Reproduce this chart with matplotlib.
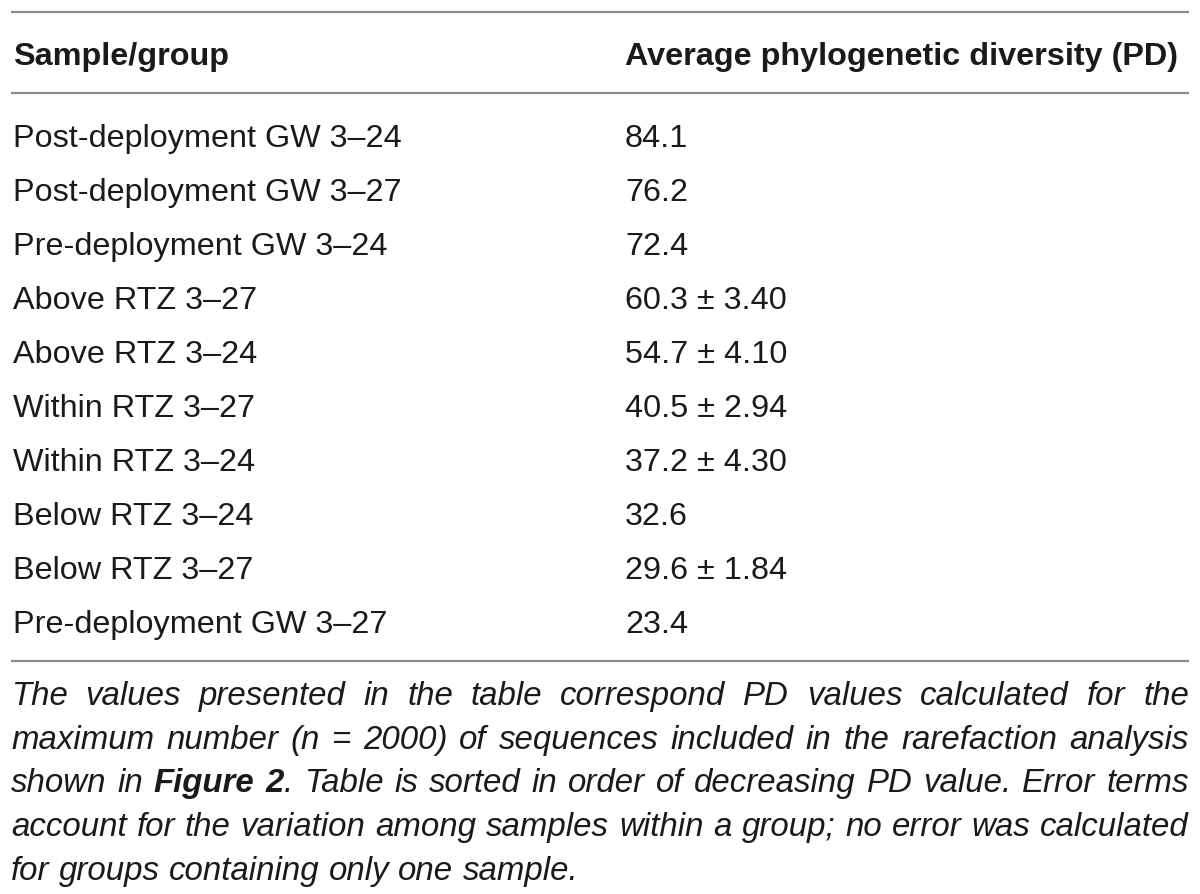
import matplotlib
matplotlib.use("Agg")
import matplotlib.pyplot as plt

# ---- data ----
header_left = "Sample/group"
header_right = "Average phylogenetic diversity (PD)"
samples = [
    "Post-deployment GW 3\u201324",
    "Post-deployment GW 3\u201327",
    "Pre-deployment GW 3\u201324",
    "Above RTZ 3\u201327",
    "Above RTZ 3\u201324",
    "Within RTZ 3\u201327",
    "Within RTZ 3\u201324",
    "Below RTZ 3\u201324",
    "Below RTZ 3\u201327",
    "Pre-deployment GW 3\u201327",
]
pd_values = [84.1, 76.2, 72.4, 60.3, 54.7, 40.5, 37.2, 32.6, 29.6, 23.4]
pd_errors = [None, None, None, 3.40, 4.10, 2.94, 4.30, None, 1.84, None]

caption_lines = [
    "The values presented in the table correspond PD values calculated for the",
    "maximum number (n = 2000) of sequences included in the rarefaction analysis",
    "shown in **Figure 2**. Table is sorted in order of decreasing PD value. Error terms",
    "account for the variation among samples within a group; no error was calculated",
    "for groups containing only one sample.",
]

# ---- layout ----
W, H = 1200, 895
FONT = "Liberation Sans"
TXT = "#1a1a1a"
LINE = "#8a8a8a"
FS = 23.3
CFS = 23.8

fig = plt.figure(figsize=(W / 100, H / 100), dpi=100)
ax = fig.add_axes([0, 0, 1, 1])
ax.set_xlim(0, W)
ax.set_ylim(H, 0)
ax.axis("off")

x_left, x_right = 11, 1189
x_col2 = 625

for y in (13, 94, 662):
    ax.plot([x_left, x_right], [y, y], color=LINE, lw=1.6, solid_capstyle="butt")

ax.text(13, 65, header_left, fontsize=FS, fontweight="bold", family=FONT,
        color=TXT, va="baseline", ha="left")
ax.text(x_col2, 65, header_right, fontsize=FS, fontweight="bold", family=FONT,
        color=TXT, va="baseline", ha="left")

row0, step = 147, 54.0
for i, (s, v, e) in enumerate(zip(samples, pd_values, pd_errors)):
    y = row0 + i * step
    ax.text(13, y, s, fontsize=FS, family=FONT, color=TXT, va="baseline", ha="left")
    val = f"{v:.1f}" if e is None else f"{v:.1f} \u00b1 {e:.2f}"
    ax.text(x_col2, y, val, fontsize=FS, family=FONT, color=TXT, va="baseline", ha="left")

# ---- justified caption ----
fig.canvas.draw()
renderer = fig.canvas.get_renderer()


def parse_line(line):
    # words are lists of (text, bold) segments; "**" toggles bold
    tokens = []
    bold = False
    cur = []
    buf = ""
    i = 0
    while i < len(line):
        if line.startswith("**", i):
            if buf:
                cur.append((buf, bold))
                buf = ""
            bold = not bold
            i += 2
            continue
        c = line[i]
        if c == " ":
            if buf:
                cur.append((buf, bold))
                buf = ""
            if cur:
                tokens.append(cur)
            cur = []
        else:
            buf += c
        i += 1
    if buf:
        cur.append((buf, bold))
    if cur:
        tokens.append(cur)
    return tokens


def seg_width(text, bold):
    t = ax.text(0, 0, text, fontsize=CFS, family=FONT, style="italic",
                fontweight="bold" if bold else "normal")
    bb = t.get_window_extent(renderer)
    t.remove()
    return bb.width


space_w = seg_width("a a", False) - seg_width("aa", False)
cap0, cstep = 705, 43.75
for li, line in enumerate(caption_lines):
    words = parse_line(line)
    widths = [[seg_width(t, b) for t, b in w] for w in words]
    total = sum(sum(w) for w in widths)
    last = li == len(caption_lines) - 1
    if last or len(words) < 2:
        gap = space_w
    else:
        gap = (x_right - x_left - total) / (len(words) - 1)
    x = x_left
    y = cap0 + li * cstep
    for w, ws in zip(words, widths):
        for (t, b), sw in zip(w, ws):
            ax.text(x, y, t, fontsize=CFS, family=FONT, style="italic",
                    fontweight="bold" if b else "normal", color=TXT,
                    va="baseline", ha="left")
            x += sw
        x += gap

fig.savefig("out.png", dpi=100, facecolor="white")
